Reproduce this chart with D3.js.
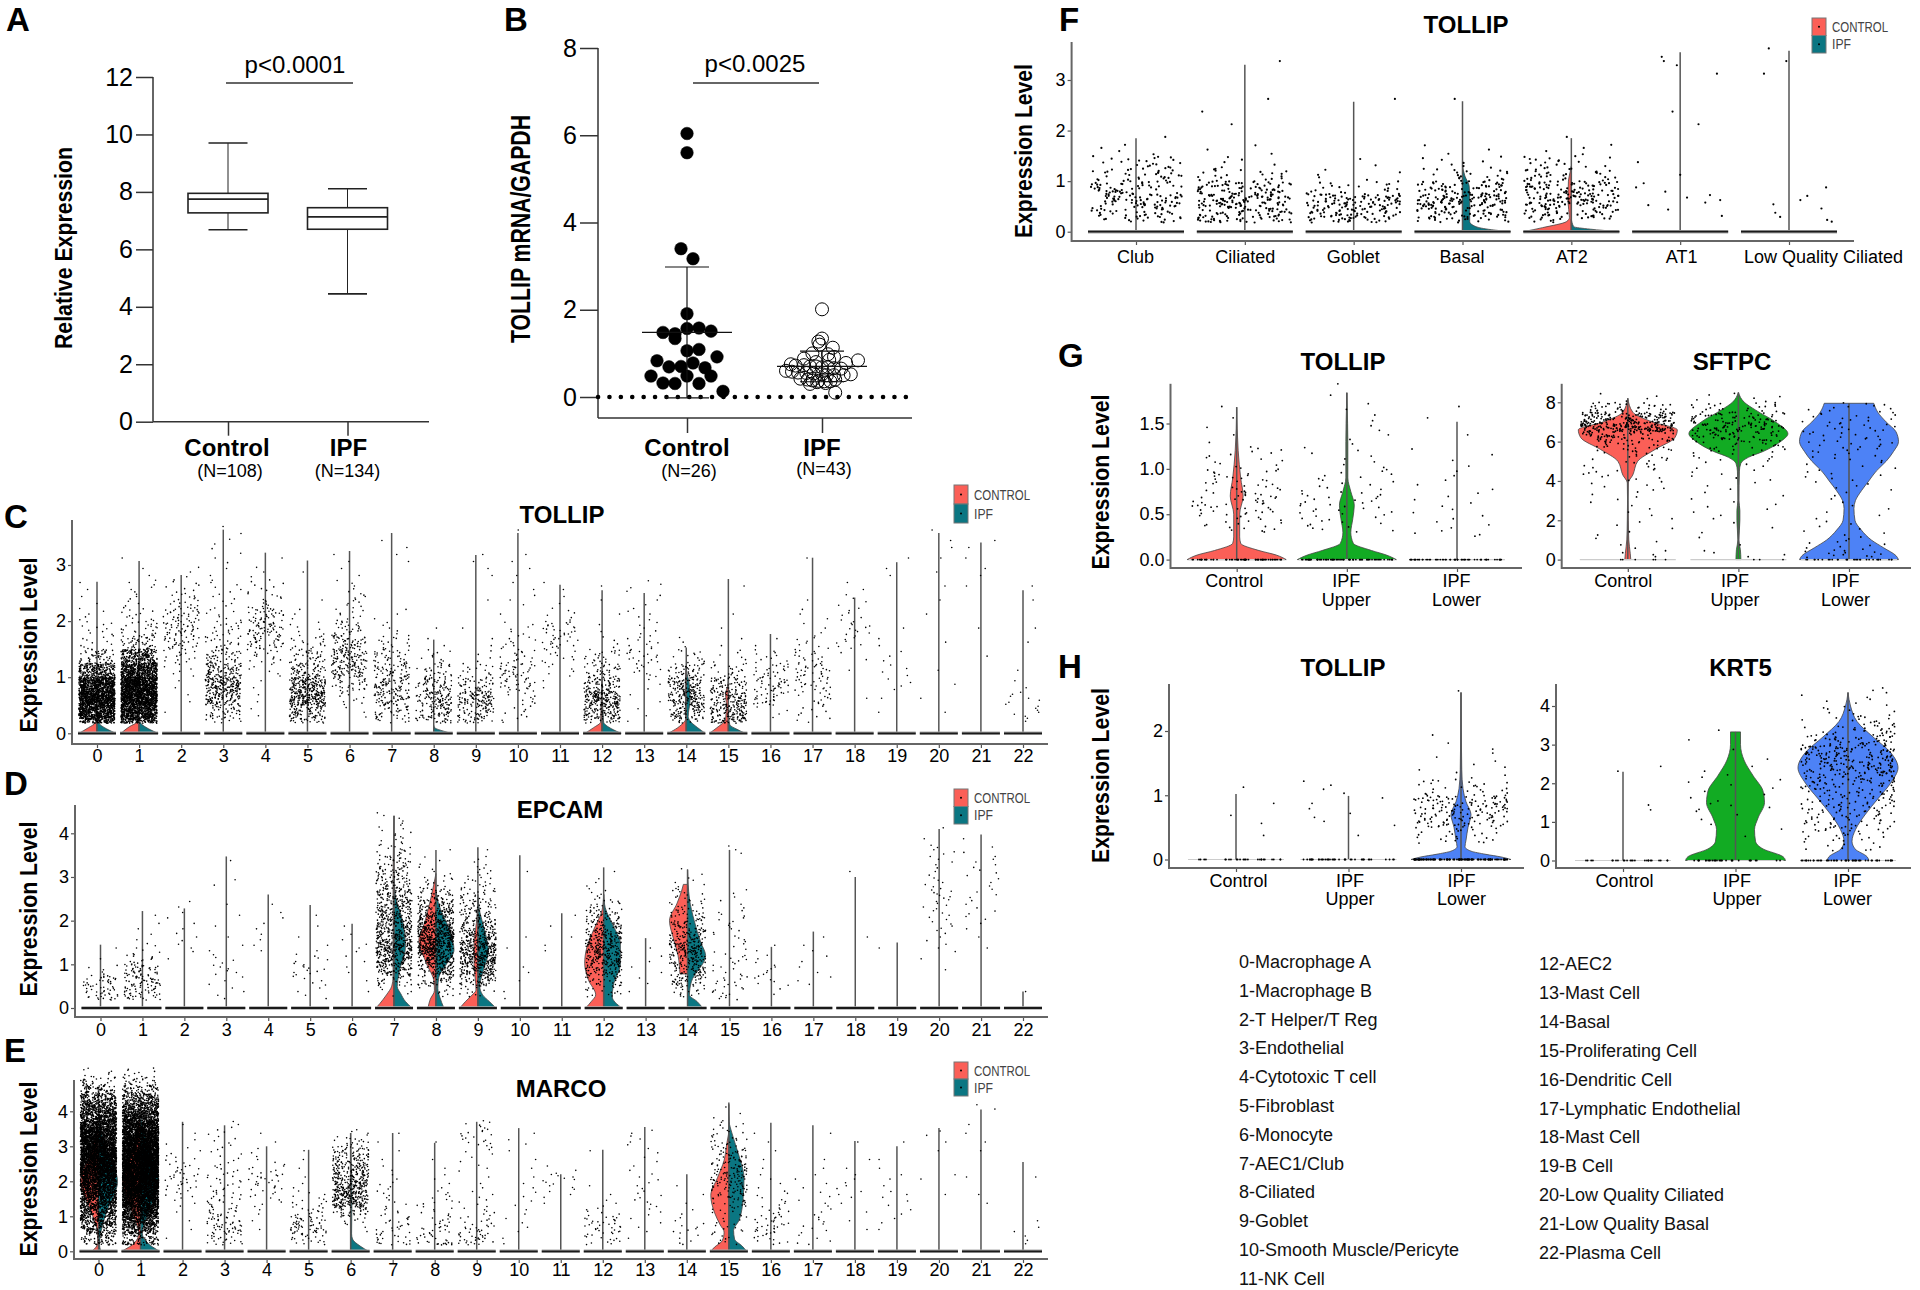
<!DOCTYPE html>
<html>
<head>
<meta charset="utf-8">
<style>
  html, body { margin: 0; background: #fff; }
  svg { display: block; font-family: "Liberation Sans", Arial, sans-serif; }
</style>
<script src="https://cdn.jsdelivr.net/npm/d3@7"></script>
</head>
<body>
<svg id="fig" width="1920" height="1290"></svg>
<script>
// ---- panel A: box plot values
const boxGroups = ["Control", "IPF"];
const boxNotes = ["(N=108)", "(N=134)"];
const boxLow = [6.68, 4.45];
const boxQ1 = [7.27, 6.7];
const boxMedian = [7.75, 7.13];
const boxQ3 = [7.95, 7.45];
const boxHigh = [9.7, 8.11];
const boxTicks = [0, 2, 4, 6, 8, 10, 12];

// ---- panel B: [value, swarm column]
const swarmGroups = ["Control", "IPF"];
const swarmNotes = ["(N=26)", "(N=43)"];
const swarmTicks = [0, 2, 4, 6, 8];
const swarmControl = [[6.04,0],[5.6,0],[3.4,-.5],[3.17,.5],[1.91,0],[1.57,0],[1.58,1],[1.51,2],[1.48,-2],[1.45,-1],[1.34,-1],
  [1.06,0],[1.09,1],[.92,2.5],[.83,-2.5],[.78,.5],[.69,-1.5],[.7,-.5],[.67,1.5],[.48,-3],[.48,0],[.48,2],[.32,-2],[.31,-1],[.31,1],[.13,3]];
const swarmIpf = [[2.01,0],[1.34,0],[1.27,-.3],[1.2,-.2],[1.13,.9],[1.0,-.8],[.98,.5],[.92,1],[.88,-1.5],[.85,.6],[.84,3],[.8,-.5],
  [.78,2],[.75,-2.6],[.73,-1.5],[.72,-2.2],[.7,-1],[.7,-.5],[.68,0],[.68,.5],[.66,1],[.65,1.6],[.6,-3],[.58,-2.5],[.56,-2],[.55,-1.3],
  [.54,-.7],[.52,0],[.5,.4],[.5,1],[.5,1.8],[.52,2.4],[.42,-1.8],[.4,-1.2],[.38,-.8],[.37,-.3],[.36,.2],[.36,.7],[.4,1.1],[.32,.3],[.3,-1],[.34,-.4],[.1,1.1]];
const swarmMean = [1.48, 0.7];
const swarmSdLow = [-0.02, 0.35];
const swarmSdHigh = [2.98, 1.05];

// ---- clusters used by C, D, E
const clusterIds = d3.range(23).map(String);

// point counts per 0.25-wide expression bin, one row per cluster
const tollipBins = [
  [90,550,700,560,220,50,10,10,5,2,2],
  [90,550,750,700,450,220,45,20,12,6,6,2,1],
  [0,1,2,2,6,15,30,35,30,16,8,3],
  [5,40,100,140,80,40,20,16,8,6,6,2,3,3,2],
  [0,2,2,2,6,15,35,45,35,12,8,3,1],
  [15,80,180,140,60,35,18,6,3,1,0,1],
  [0,3,10,30,70,70,50,25,10,10,5,2,2],
  [5,35,60,60,45,30,15,5,3,0,0,0,2,2],
  [12,60,75,50,25,10,2,1],
  [12,50,90,40,15,4,2,1,0,1,0,2,2],
  [2,8,10,25,30,15,10,6,1,3,2,2,2,0,1],
  [0,0,0,2,6,10,18,20,6,2,2],
  [12,100,150,70,35,20,4,2,1,1,1],
  [1,2,2,3,10,15,10,5,5,3,4],
  [8,70,100,85,40,12,3],
  [30,100,85,55,20,6,2,1,1,0,1],
  [0,4,25,30,20,10,2],
  [2,8,12,20,25,15,8,3,3,1,0,0,1],
  [0,0,1,0,1,2,8,10,6,4,2],
  [0,1,1,4,4,3,2,1,0,0,0,2,1],
  [0,1,1,1,1,0,1,0,1,1,1,1,1,2,1],
  [0,0,0,0,0,1,0,1,0,0,1,2,1,2],
  [1,7,7,2,1,0,1,1,0,1,1],
];
const tollipTops = [2.7,3.07,2.82,3.63,3.22,3.08,3.25,3.57,1.67,3.18,3.57,2.65,2.55,2.5,1.53,2.75,1.77,3.13,2.42,3.05,3.57,3.4,2.55];

const epcamBins = [
  [8,25,25,5,1,1],
  [8,35,40,35,14,5,2,2,1],
  [0,0,0,0,1,3,3,2,2,2],
  [1,3,3,6,4,2,1,1,1,1,0,2,0,1],
  [0,0,0,0,0,2,2,2,2,1],
  [1,3,5,10,6,2,1,1,1],
  [0,1,1,2,2,3,2,1],
  [0,5,25,70,100,130,100,90,80,70,60,40,35,25,15,8,6,4],
  [0,10,40,80,130,180,180,150,100,60,30,12,5,3,1],
  [0,12,50,100,140,130,90,60,40,30,20,12,8,4,1],
  [1,1,1,2,0,1,1,0,0,0,0,0,1,0],
  [0,0,0,0,0,2,1,1,1],
  [0,15,30,60,90,90,80,50,35,15,6,3,1],
  [0,1,2,2,2,1],
  [0,15,40,50,60,80,55,40,25,15,10,5,2],
  [3,10,10,6,8,4,6,6,6,3,3,0,0,0,3],
  [0,2,6,6,3,2],
  [0,0,3,2,2,2,1],
  [0,0,0,0,0,0,1,0,0,0,0,0,1],
  [0,0,0,0,0,1],
  [0,0,0,1,1,3,3,5,5,6,8,5,3,4,5,1,1],
  [0,0,0,0,0,1,1,2,4,3,4,3,4,4,2,1],
  [0,1],
];
const epcamTops = [1.45,2.22,2.28,3.47,2.6,2.36,1.93,4.4,3.62,3.68,3.5,2.17,3.22,1.6,3.17,3.62,1.4,1.75,3.0,1.5,4.1,3.97,.38];

const marcoBins = [
  [16,48,96,144,176,224,288,352,448,512,544,544,512,448,352,272,192,128,64,24,6],
  [30,60,160,240,350,450,530,610,690,720,720,670,610,530,420,300,210,130,60,24,8],
  [0,1,1,1,1,3,6,10,12,8,6,3,2,1,1],
  [5,15,25,20,15,12,10,8,8,6,4,4,4,4,3],
  [0,0,1,1,2,4,6,10,12,6,3,2,1,1],
  [3,15,30,25,12,8,5,2,1,1,1,1],
  [0,0,2,8,30,90,100,90,70,60,45,35,14,5],
  [6,12,10,10,6,4,4,4,2,2,1,1,1,1],
  [10,12,12,8,6,6,5,2,2,1,1,0,1],
  [5,20,14,8,6,4,3,2,1,3,2,4,8,8,6],
  [1,1,2,2,2,2,2,2,1,1,1,1,2,1],
  [0,0,0,0,0,1,3,5,7,2],
  [3,10,15,15,6,3,1,1,0,0,0,1],
  [0,1,2,2,3,4,4,3,3,2,2,2,3,3],
  [2,3,6,3,2,1,1,1],
  [2,6,8,6,8,15,25,30,35,30,25,20,12,8,6,2,1],
  [2,8,15,12,8,5,4,2,2,1,1,1,1,1],
  [2,3,4,4,3,3,2,2,2,1,1,0,0,1],
  [0,0,1,1,1,1,3,3,2,1,1,0,1],
  [0,0,1,2,2,2,3,1,2,1,1,0,1],
  [0,0,0,0,0,0,1,0,2,0,0,1,1,2],
  [0,0,0,0,0,1,1,0,1,0,0,1,1,1,1,0,2],
  [1,2,2,1,0,0,0,0,1],
];
const marcoTops = [4.7,4.5,3.7,3.6,3,2.9,3.38,3.38,3.1,3.7,3.52,2.2,2.9,3.55,2.2,4.25,3.67,3.6,3.15,3,3.52,4.05,2.55];

// violin outlines: cluster -> [expression, relative half width]
const tollipControl = {
  0: [[0,.95],[.1,.45],[.18,.1],[.3,0]],
  1: [[0,.95],[.12,.5],[.2,.1],[.3,0]],
  12: [[0,.9],[.1,.45],[.2,.08],[.6,.05],[.85,.03],[1,0]],
  14: [[0,.95],[.1,.45],[.2,.12],[.25,.03],[.9,.05],[1.2,0]],
  15: [[0,1],[.1,.6],[.25,.15],[.5,.1],[.7,.15],[.85,.03],[1,0]],
};
const tollipIpf = {
  0: [[0,1],[.08,.5],[.18,.1],[.3,0]],
  1: [[0,1],[.08,.5],[.2,.05],[.3,0]],
  8: [[0,.9],[.03,.6],[.1,.05],[.14,0]],
  12: [[0,1],[.08,.5],[.2,.08],[.5,.03],[.9,0]],
  14: [[0,1],[.1,.6],[.2,.25],[.3,.1],[.6,.2],[.9,.15],[1.1,.02],[1.2,0]],
  15: [[0,.9],[.08,.4],[.15,.08],[.35,0]],
};
const epcamControl = {
  7: [[0,.95],[.1,.75],[.3,.4],[.5,.12],[.7,.05],[3,.05],[4.4,0]],
  8: [[0,.42],[.2,.3],[.4,.08],[.6,.1],[1.02,.5],[1.55,.9],[1.95,.6],[2.55,.25],[3.08,0]],
  9: [[0,.95],[.15,.65],[.3,.3],[.41,.1],[1,.2],[1.55,.2],[1.94,.08],[2.5,0]],
  12: [[0,.95],[.15,.65],[.3,.42],[.64,.8],[1.02,1],[1.4,.88],[1.8,.52],[2.25,.08],[2.6,0]],
  14: [[.78,.4],[1.2,.5],[1.6,.75],[2,.95],[2.4,.55],[2.7,.3],[2.83,.22]],
};
const epcamIpf = {
  7: [[0,.95],[.15,.6],[.33,.35],[.49,.17],[.8,.26],[1.4,.6],[2,.45],[2.55,.08],[3,0]],
  8: [[0,.42],[.25,.2],[.45,.1],[.7,.15],[1,.55],[1.33,.95],[1.8,.7],[2.4,.13],[2.7,0]],
  9: [[0,.95],[.15,.6],[.3,.25],[.5,.1],[.8,.25],[1.3,.55],[1.8,.35],[2.2,.1],[2.6,0]],
  12: [[0,.95],[.26,.45],[.5,.5],[1.02,.88],[1.47,.88],[1.93,.45],[2.3,.08],[2.6,0]],
  14: [[0,.8],[.15,.5],[.3,.1],[.6,.2],[1.2,.95],[1.5,.7],[2,.35],[2.5,.1],[3.17,0]],
};
const marcoControl = {
  0: [[0,.35],[.22,.05],[.5,.05],[1.08,.35],[2,.95],[3,.28],[3.66,0]],
  1: [[0,1],[.25,.3],[.5,.1],[1.2,.5],[2,.95],[3,.4],[3.8,.05],[4.2,0]],
  15: [[0,.95],[.12,.75],[.3,.35],[.55,.25],[.75,.45],[1.1,.75],[1.6,.95],[2.1,.6],[2.6,.25],[3.1,.1],[3.4,0]],
};
const marcoIpf = {
  0: [[0,.12],[.2,.05],[1,.35],[2,1],[3,.35],[3.7,.05],[4.2,0]],
  1: [[0,1],[.25,.35],[.5,.1],[1.2,.5],[2,.95],[3,.4],[3.8,.05],[4.2,0]],
  6: [[0,.95],[.15,.5],[.35,.1],[.5,.05],[1.5,.07],[2.5,.03],[3.38,0]],
  15: [[0,.95],[.15,.7],[.35,.3],[.6,.25],[.9,.55],[1.5,.75],[2.1,.8],[2.7,.55],[3.4,.15],[3.7,.02],[4.2,0]],
};

// ---- panel F
const epithelialTypes = ["Club", "Ciliated", "Goblet", "Basal", "AT2", "AT1", "Low Quality Ciliated"];
const epithelialBins = [
  [8,40,60,45,30,20,4,1],
  [20,60,85,60,20,5,3,0,1,1,1,0,0,1],
  [15,65,75,20,5,2,0,0,0,0,1],
  [10,60,90,55,20,8,3,0,0,0,1],
  [5,50,80,65,30,18,4,1],
  [0,2,5,3,1,1,0,0,1,1,0,0,1,3],
  [2,3,3,1,0,0,0,0,0,0,0,0,1,1,1],
];
const epithelialTops = [1.85,3.3,2.57,2.58,1.85,3.55,3.58];
const epithelialControl = { 4: [[0,1],[.08,.6],[.2,.1],[.28,.04],[.6,.07],[1,.06],[1.2,.02],[1.3,0]] };
const epithelialIpf = {
  3: [[0,1],[.04,.6],[.1,.28],[.2,.15],[.6,.15],[.9,.14],[1.1,.05],[1.3,0]],
  4: [[0,1],[.05,.4],[.1,.05],[.25,0]],
};

// ---- panels G, H
const regionLabels = ["Control", "IPF\nUpper", "IPF\nLower"];
const atTollipBins = [[0,20,40,30,15,3,2],[0,15,25,15,8,5,4,2],[3,6,7,5,4,1,2]];
const atTollipTops = [1.68,1.84,1.52];
const atTollipZeros = [70,70,60];
const atTollipWidths = [
  [[0,1],[.05,.8],[.1,.45],[.18,.08],[.25,.06],[.5,.06],[.7,.13],[.9,.08],[1.2,.03],[1.68,0]],
  [[0,1],[.05,.8],[.1,.5],[.18,.13],[.3,.08],[.45,.12],[.6,.15],[.75,.08],[.9,.02],[1.3,.02],[1.5,.015],[1.84,0]],
  null,
];
const sftpcBins = [
  [4,3,3,3,3,3,4,6,8,10,12,25,60,170,110,35,4],
  [4,1,2,2,3,4,3,3,5,5,10,20,45,65,45,20,6],
  [12,8,5,4,3,3,3,5,6,5,8,12,12,14,12,10],
];
const sftpcTops = [8.2,8.5,7.95];
const sftpcZeros = [6,3,30];
const sftpcWidths = [
  [[0,.06],[.3,.05],[1,.02],[2,.01],[3,.005],[3.9,.01],[4.3,.1],[5,.2],[5.6,.55],[6.2,.95],[6.6,1],[7,.5],[7.5,.1],[8.2,0]],
  [[0,.05],[.5,.04],[1,.01],[2,.03],[2.5,.03],[3,.01],[4.5,.02],[4.9,.05],[5.2,.2],[5.5,.5],[6,.85],[6.4,1],[7,.75],[7.6,.35],[8,.12],[8.5,0]],
  [[0,1],[.2,.95],[.6,.7],[1,.45],[1.5,.25],[2,.12],[2.6,.1],[3,.13],[3.5,.25],[4,.4],[4.5,.55],[5,.75],[5.5,.9],[6,1],[6.5,.95],[7,.75],[7.5,.58],[7.95,.5]],
];
const basalTollipBins = [[0,1,2,1,1],[0,1,4,3,4],[0,25,70,80,25,6,4,2,0,0,1]];
const basalTollipTops = [1.02,.99,2.6];
const basalTollipZeros = [25,40,120];
const basalTollipWidths = [
  null, null,
  [[0,1],[.04,.8],[.08,.5],[.13,.2],[.2,.08],[.3,.1],[.5,.14],[.7,.2],[.9,.1],[1.1,.04],[1.4,.015],[2.6,0]],
];
const krt5Bins = [[0,0,0,0,0,2,0,0,0,2],[0,0,1,2,2,5,3,3,4,2,1,1,1,1],[4,6,15,25,25,30,30,35,45,60,60,60,40,25,15,8,5,4]];
const krt5Tops = [2.3,3.33,4.35];
const krt5Zeros = [25,30,50];
const krt5Widths = [
  null,
  [[0,1],[.1,.95],[.3,.55],[.5,.4],[.8,.38],[1.1,.45],[1.5,.58],[1.8,.55],[2.2,.35],[2.6,.17],[3,.1],[3.33,.1]],
  [[0,.42],[.1,.38],[.3,.14],[.5,.08],[.8,.15],[1.2,.35],[1.6,.6],[2,.85],[2.4,1],[2.8,.85],[3.2,.5],[3.6,.18],[4,.05],[4.35,0]],
];

// ---- cluster key
const keyLeft = ["0-Macrophage A","1-Macrophage B","2-T Helper/T Reg","3-Endothelial","4-Cytotoxic T cell","5-Fibroblast",
  "6-Monocyte","7-AEC1/Club","8-Ciliated","9-Goblet","10-Smooth Muscle/Pericyte","11-NK Cell"];
const keyRight = ["12-AEC2","13-Mast Cell","14-Basal","15-Proliferating Cell","16-Dendritic Cell","17-Lymphatic Endothelial",
  "18-Mast Cell","19-B Cell","20-Low Quality Ciliated","21-Low Quality Basal","22-Plasma Cell"];

const RED = "#FB5F57", TEAL = "#0B7682", GREEN = "#12AB23", BLUE = "#4D82F6";
const svg = d3.select("#fig");

function label(g, str, x, y, o = {}) {
  const t = g.append("text").attr("x", x).attr("y", y)
    .attr("text-anchor", o.anchor || "middle")
    .style("font-size", (o.size || 18) + "px")
    .style("font-weight", o.weight || 400)
    .style("fill", o.fill || "#000")
    .text(str);
  if (o.len) t.attr("textLength", o.len).attr("lengthAdjust", "spacingAndGlyphs");
  return t;
}
function yTitle(str, x, cy, len, size) {
  label(svg, str, 0, 0, { size, weight: 700, len })
    .attr("transform", `translate(${x},${cy}) rotate(-90)`);
}
function styleAxis(g, size, color, width) {
  g.select(".domain").remove();
  g.selectAll("line").attr("stroke", color).attr("stroke-width", width);
  g.selectAll("text").style("font-size", size + "px").style("font-family", "inherit").attr("fill", "#000");
}

// scatter for the sideways spread only: it carries no value, same as the jitter of the plot
function spread(k) {
  let h = Math.imul(k + 1, 2654435761);
  h ^= h >>> 15;
  h = Math.imul(h, 0x5bd1e995);
  h ^= h >>> 13;
  return ((h >>> 0) / 4294967296) * 2 - 1;
}

// one point per count from the bin arrays, evenly spaced inside its bin
function cloud(counts, binW, floor, seed) {
  const out = [];
  let k = seed * 7919;
  counts.forEach((c, i) => {
    const lo = Math.max(i * binW, floor), hi = (i + 1) * binW;
    for (let j = 0; j < c; j++, k++) {
      out.push({ v: lo + (hi - lo) * (j + 0.5) / c, j: spread(k) });
    }
  });
  return out;
}

// ---- Seurat style panels
function violinPanel(c) {
  const g = svg.append("g");
  const y = d3.scaleLinear().domain([0, c.ticks[c.ticks.length - 1]]).range([c.y0, c.yMaxTick]);
  const x = d3.scalePoint().domain(c.labels).range(c.xRange);
  const half = c.half;

  const layer = g.append("g");
  c.labels.forEach((name, i) => {
    const cx = x(name);
    const grp = layer.append("g");

    const side = (profile, dir, fill, both) => {
      if (!profile) return;
      const area = d3.area().curve(d3.curveMonotoneY)
        .y((d) => y(d[0]))
        .x0((d) => (both ? cx - d[1] * half : cx))
        .x1((d) => cx + dir * d[1] * half);
      grp.append("path").datum(profile).attr("d", area)
        .attr("fill", fill).attr("stroke", "#444").attr("stroke-width", 0.8);
    };
    if (c.widths) side(c.widths[i], 1, c.fills[i], true);
    else {
      side(c.control[i], -1, RED);
      side(c.ipf[i], 1, TEAL);
    }

    // violin of (nearly) all zeros collapses to this stem
    grp.append("line").attr("x1", cx).attr("x2", cx).attr("y1", y(0)).attr("y2", y(c.tops[i]))
      .attr("stroke", "#555").attr("stroke-width", 1.5);

    // zero band
    const band = (col, w) => grp.append("line").attr("x1", cx - c.jitter - 1).attr("x2", cx + c.jitter + 1)
      .attr("y1", y(0)).attr("y2", y(0)).attr("stroke", col).attr("stroke-width", w);
    if (c.zeros) {
      band("#ccc", 1.2);
      grp.selectAll("circle.zero").data(d3.range(c.zeros[i])).join("circle").attr("class", "zero")
        .attr("cx", (d) => cx + spread(d + i * 101) * c.jitter).attr("cy", y(0)).attr("r", c.r).attr("fill", "#000");
    } else {
      band("#aaa", 3.5);
      band("#1a1a1a", 1.8);
    }

    grp.selectAll("circle.pt").data(cloud(c.bins[i], c.binW, c.floor, i)).join("circle").attr("class", "pt")
      .attr("cx", (d) => cx + d.j * c.jitter).attr("cy", (d) => y(d.v)).attr("r", c.r).attr("fill", "#000");
  });

  // axes
  const ax = g.append("g").attr("transform", `translate(${c.xAxisX},0)`)
    .call(d3.axisLeft(y).tickValues(c.ticks).tickFormat(c.fmt || d3.format("d")).tickSize(4).tickPadding(2));
  styleAxis(ax, c.tickSize || 18, "#555", 1.2);
  const bx = g.append("g").attr("transform", `translate(0,${c.xAxisY})`)
    .call(d3.axisBottom(x).tickSize(4).tickPadding(4));
  styleAxis(bx, c.tickSize || 18, "#555", 1.2);
  bx.selectAll("text").each(function (d, i) {
    const el = d3.select(this), parts = String(d).split("\n");
    el.text(null).attr("dy", null).attr("y", c.labelY - c.xAxisY);
    parts.forEach((p, n) => el.append("tspan").attr("x", (c.labelShift ? c.labelShift[i] : 0))
      .attr("dy", n ? "1.03em" : null).text(p));
  });
  g.append("line").attr("x1", c.xAxisX).attr("x2", c.xAxisX).attr("y1", c.top).attr("y2", c.xAxisY + 1)
    .attr("stroke", "#666").attr("stroke-width", 2);
  g.append("line").attr("x1", c.xAxisX).attr("x2", c.xEnd).attr("y1", c.xAxisY).attr("y2", c.xAxisY)
    .attr("stroke", "#666").attr("stroke-width", 2);

  label(g, c.title, c.titleX, c.titleY, { size: 24, weight: 700 });
}

function legend(x, y, h) {
  const g = svg.append("g");
  [["CONTROL", RED], ["IPF", TEAL]].forEach(([name, fill], i) => {
    const top = y + i * h;
    g.append("rect").attr("x", x).attr("y", top).attr("width", 14).attr("height", h)
      .attr("fill", fill).attr("stroke", "#777").attr("stroke-width", 1);
    g.append("circle").attr("cx", x + 7).attr("cy", top + h / 2).attr("r", 1).attr("fill", "#000");
    label(g, name, x + 20, top + h / 2 + 5, { anchor: "start", size: 14, fill: "#444", len: name === "IPF" ? 19 : 56 });
  });
}

function panelLetter(str, x, y) {
  label(svg, str, x, y, { size: 33, weight: 700, anchor: "start" });
}

// ---- A
(function () {
  const y = d3.scaleLinear().domain([0, 12]).range([421.7, 77]);
  const x = d3.scalePoint().domain(boxGroups).range([228, 347.5]);
  const g = svg.append("g");
  const ax = g.append("g").attr("transform", "translate(153,0)")
    .call(d3.axisLeft(y).tickValues(boxTicks).tickSize(17).tickPadding(3));
  styleAxis(ax, 25, "#333", 1.5);
  const bx = g.append("g").attr("transform", "translate(0,421.7)")
    .call(d3.axisBottom(x).tickSize(14).tickFormat(""));
  styleAxis(bx, 25, "#333", 1.5);
  g.append("line").attr("x1", 153).attr("x2", 153).attr("y1", 77).attr("y2", 421.7).attr("stroke", "#333").attr("stroke-width", 1.5);
  g.append("line").attr("x1", 153).attr("x2", 429).attr("y1", 421.7).attr("y2", 421.7).attr("stroke", "#333").attr("stroke-width", 1.5);

  boxGroups.forEach((name, i) => {
    const cx = x(name), b = 40, cap = 19.5;
    const seg = (x1, x2, v1, v2, w) => g.append("line").attr("x1", x1).attr("x2", x2)
      .attr("y1", y(v1)).attr("y2", y(v2)).attr("stroke", "#222").attr("stroke-width", w);
    seg(cx, cx, boxLow[i], boxQ1[i], 1);
    seg(cx, cx, boxQ3[i], boxHigh[i], 1);
    seg(cx - cap, cx + cap, boxLow[i], boxLow[i], 1.6);
    seg(cx - cap, cx + cap, boxHigh[i], boxHigh[i], 1.6);
    g.append("rect").attr("x", cx - b).attr("width", 2 * b).attr("y", y(boxQ3[i]))
      .attr("height", y(boxQ1[i]) - y(boxQ3[i])).attr("fill", "none").attr("stroke", "#222").attr("stroke-width", 1.6);
    seg(cx - b, cx + b, boxMedian[i], boxMedian[i], 1.8);
    label(g, name, cx - 1 + i * 2, 456, { size: 24, weight: 700 });
    label(g, boxNotes[i], cx + 2 - i * 2, 477, { size: 18 });
  });
  label(g, "p<0.0001", 295, 73, { size: 24 });
  g.append("line").attr("x1", 226).attr("x2", 353).attr("y1", 83).attr("y2", 83).attr("stroke", "#666").attr("stroke-width", 2);
  yTitle("Relative Expression", 72, 248, 202, 23);
  panelLetter("A", 6, 31);
})();

// ---- B
(function () {
  const y = d3.scaleLinear().domain([0, 8]).range([397, 48]);
  const x = d3.scalePoint().domain(swarmGroups).range([687, 822]);
  const col = d3.scaleLinear().domain([-1, 1]).range([-12, 12]);
  const g = svg.append("g");
  const ax = g.append("g").attr("transform", "translate(598,0)")
    .call(d3.axisLeft(y).tickValues(swarmTicks).tickSize(18).tickPadding(3));
  styleAxis(ax, 25, "#333", 1.5);
  const bx = g.append("g").attr("transform", "translate(0,418)")
    .call(d3.axisBottom(x).tickSize(15).tickFormat(""));
  styleAxis(bx, 25, "#333", 1.5);
  g.append("line").attr("x1", 598).attr("x2", 598).attr("y1", 48).attr("y2", 418).attr("stroke", "#333").attr("stroke-width", 1.5);
  g.append("line").attr("x1", 598).attr("x2", 912).attr("y1", 418).attr("y2", 418).attr("stroke", "#333").attr("stroke-width", 1.5);
  g.append("line").attr("x1", 598).attr("x2", 906).attr("y1", y(0)).attr("y2", y(0))
    .attr("stroke", "#000").attr("stroke-width", 4.5).attr("stroke-linecap", "round").attr("stroke-dasharray", "0.1 11.3");

  [swarmControl, swarmIpf].forEach((pts, i) => {
    const cx = x(swarmGroups[i]);
    const filled = i === 0;
    g.selectAll(`circle.s${i}`).data(pts).join("circle").attr("class", `s${i}`)
      .attr("cx", (d) => cx + col(d[1])).attr("cy", (d) => y(d[0])).attr("r", filled ? 6.3 : 6.5)
      .attr("fill", filled ? "#000" : "none").attr("stroke", "#000").attr("stroke-width", filled ? 0.5 : 1);
    const seg = (x1, x2, v1, v2) => g.append("line").attr("x1", x1).attr("x2", x2)
      .attr("y1", y(v1)).attr("y2", y(v2)).attr("stroke", "#111").attr("stroke-width", 1.2);
    seg(cx, cx, swarmSdLow[i], swarmSdHigh[i]);
    seg(cx - 45, cx + 45, swarmMean[i], swarmMean[i]);
    seg(cx - 22, cx + 22, swarmSdHigh[i], swarmSdHigh[i]);
    seg(cx - 22, cx + 22, swarmSdLow[i], swarmSdLow[i]);
    label(g, swarmGroups[i], cx, 456, { size: 24, weight: 700 });
    label(g, swarmNotes[i], cx + 2, i ? 475 : 477, { size: 18 });
  });
  label(g, "p<0.0025", 755, 72, { size: 24 });
  g.append("line").attr("x1", 693).attr("x2", 819).attr("y1", 83).attr("y2", 83).attr("stroke", "#666").attr("stroke-width", 2);
  yTitle("TOLLIP mRNA/GAPDH", 530, 229, 228, 27);
  panelLetter("B", 504, 31);
})();

const asRows = (obj) => clusterIds.map((_, i) => obj[i] || null);
const ticks0to3 = [0, 1, 2, 3], ticks0to4 = [0, 1, 2, 3, 4];

// ---- C D E
violinPanel({ title: "TOLLIP", titleX: 562, titleY: 523, labels: clusterIds, ticks: ticks0to3, y0: 733.3, yMaxTick: 565,
  xRange: [97, 1023], half: 19, jitter: 18, r: 0.8, binW: 0.25, floor: 0.18, bins: tollipBins, tops: tollipTops,
  control: asRows(tollipControl), ipf: asRows(tollipIpf), xAxisX: 72, xAxisY: 744, xEnd: 1048, top: 520, labelY: 762 });
violinPanel({ title: "EPCAM", titleX: 560, titleY: 818, labels: clusterIds, ticks: ticks0to4, y0: 1008, yMaxTick: 833.3,
  xRange: [100.5, 1023], half: 19, jitter: 18, r: 0.8, binW: 0.25, floor: 0.18, bins: epcamBins, tops: epcamTops,
  control: asRows(epcamControl), ipf: asRows(epcamIpf), xAxisX: 75, xAxisY: 1017, xEnd: 1048, top: 805, labelY: 1036 });
violinPanel({ title: "MARCO", titleX: 561, titleY: 1097, labels: clusterIds, ticks: ticks0to4, y0: 1251.3, yMaxTick: 1111.3,
  xRange: [98.5, 1023], half: 19, jitter: 18, r: 0.8, binW: 0.25, floor: 0.18, bins: marcoBins, tops: marcoTops,
  control: asRows(marcoControl), ipf: asRows(marcoIpf), xAxisX: 74, xAxisY: 1259, xEnd: 1048, top: 1080, labelY: 1276 });
yTitle("Expression Level", 37, 645, 175, 24);
yTitle("Expression Level", 37, 909, 175, 24);
yTitle("Expression Level", 37, 1169, 175, 24);
legend(954, 485, 19);
legend(954, 789, 17.5);
legend(954, 1062, 17);
panelLetter("C", 4, 528);
panelLetter("D", 4, 795);
panelLetter("E", 4, 1062);

// ---- F
violinPanel({ title: "TOLLIP", titleX: 1466, titleY: 33, labels: epithelialTypes, ticks: ticks0to3, y0: 231.7, yMaxTick: 80,
  xRange: [1136, 1789], half: 48, jitter: 47, r: 1.1, binW: 0.25, floor: 0.18, bins: epithelialBins, tops: epithelialTops,
  control: epithelialTypes.map((_, i) => epithelialControl[i] || null), ipf: epithelialTypes.map((_, i) => epithelialIpf[i] || null),
  xAxisX: 1071.6, xAxisY: 241, xEnd: 1854, top: 42, labelY: 263, labelShift: [-1, 0, -1, -1, 0, 1, 34] });
yTitle("Expression Level", 1032, 151, 174, 24);
legend(1812, 18, 17.5);
panelLetter("F", 1059, 31);

// ---- G
const regionFills = [RED, GREEN, BLUE];
violinPanel({ title: "TOLLIP", titleX: 1343, titleY: 369.6, labels: regionLabels, ticks: [0, .5, 1, 1.5], fmt: d3.format(".1f"),
  y0: 559.6, yMaxTick: 423.5, xRange: [1236.7, 1457], half: 49.5, jitter: 47, r: 0.9, binW: 0.25, floor: 0.3, bins: atTollipBins,
  tops: atTollipTops, zeros: atTollipZeros, widths: atTollipWidths, fills: regionFills,
  xAxisX: 1170.5, xAxisY: 568, xEnd: 1522, top: 383.8, labelY: 587, labelShift: [-3, -1, -1] });
violinPanel({ title: "SFTPC", titleX: 1732, titleY: 369.6, labels: regionLabels, ticks: [0, 2, 4, 6, 8],
  y0: 559.6, yMaxTick: 402.3, xRange: [1627.8, 1849], half: 49.5, jitter: 47, r: 0.9, binW: 0.5, floor: 0.1, bins: sftpcBins,
  tops: sftpcTops, zeros: sftpcZeros, widths: sftpcWidths, fills: regionFills,
  xAxisX: 1561.7, xAxisY: 568, xEnd: 1911, top: 383.8, labelY: 587, labelShift: [-5, -4, -4] });
yTitle("Expression Level", 1109, 482, 175, 24);
panelLetter("G", 1058, 366.5);

// ---- H
violinPanel({ title: "TOLLIP", titleX: 1343, titleY: 676, labels: regionLabels, ticks: [0, 1, 2],
  y0: 859.5, yMaxTick: 731, xRange: [1236, 1461], half: 50, jitter: 47, r: 0.9, binW: 0.25, floor: 0.25, bins: basalTollipBins,
  tops: basalTollipTops, zeros: basalTollipZeros, widths: basalTollipWidths, fills: regionFills,
  xAxisX: 1169, xAxisY: 868, xEnd: 1524, top: 684, labelY: 886.5, labelShift: [2, 1, 0] });
violinPanel({ title: "KRT5", titleX: 1740.5, titleY: 676, labels: regionLabels, ticks: [0, 1, 2, 3, 4],
  y0: 860.5, yMaxTick: 706, xRange: [1623, 1848], half: 50, jitter: 47, r: 0.9, binW: 0.25, floor: 0.3, bins: krt5Bins,
  tops: krt5Tops, zeros: krt5Zeros, widths: krt5Widths, fills: regionFills,
  xAxisX: 1556, xAxisY: 868, xEnd: 1911, top: 684, labelY: 886.5, labelShift: [1, 1, -1] });
yTitle("Expression Level", 1109, 775.5, 175, 24);
panelLetter("H", 1058, 678);

// ---- key
keyLeft.forEach((s, i) => label(svg, s, 1239, 968 + i * 28.8, { anchor: "start", size: 18, fill: "#111" }));
keyRight.forEach((s, i) => label(svg, s, 1539, 970 + i * 28.9, { anchor: "start", size: 18, fill: "#111" }));
</script>
</body>
</html>
